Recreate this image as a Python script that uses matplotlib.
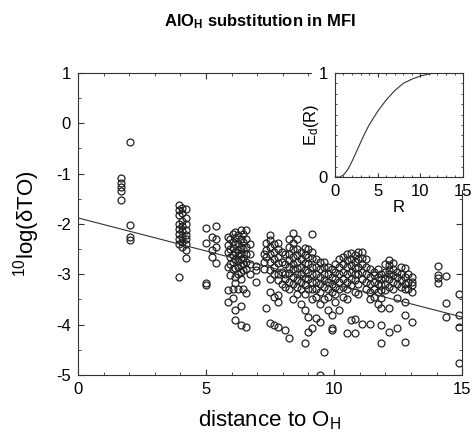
import matplotlib
matplotlib.use('Agg')
import matplotlib.pyplot as plt
from matplotlib.patches import Rectangle
from matplotlib.ticker import MultipleLocator

plt.rcParams['font.family'] = ['Liberation Sans', 'DejaVu Sans']
plt.rcParams['mathtext.fontset'] = 'custom'
plt.rcParams['mathtext.rm'] = 'Liberation Sans'
plt.rcParams['mathtext.it'] = 'Liberation Sans:italic'
plt.rcParams['axes.unicode_minus'] = False

shell_dist = [1.68, 2.05, 3.95, 4.08, 4.22, 5.0, 5.25, 5.38,
              5.85, 5.95, 6.05, 6.15, 6.25, 6.35, 6.45, 6.55, 6.7, 6.95,
              7.25, 7.35, 7.5, 7.65, 7.8, 7.95,
              8.1, 8.25, 8.4, 8.55, 8.7, 8.85, 9.0, 9.15,
              9.3, 9.45, 9.6, 9.75, 9.9,
              10.05, 10.2, 10.35, 10.5, 10.65, 10.8, 10.95, 11.1, 11.25,
              11.4, 11.55, 11.7, 11.85, 12.0, 12.15, 12.3, 12.45, 12.6,
              12.75, 12.9, 13.05, 14.05, 14.35, 14.88]
shell_logs = [
    [-1.09, -1.19, -1.27, -1.35, -1.52],
    [-0.37, -2.02, -2.26, -2.32],
    [-1.62, -1.72, -1.82, -2.0, -2.1, -2.2, -2.3, -2.4, -3.06],
    [-1.68, -1.78, -1.95, -2.05, -2.15, -2.25, -2.35, -2.45],
    [-1.7, -1.88, -2.0, -2.12, -2.22, -2.3, -2.4, -2.52, -2.68],
    [-2.08, -2.38, -3.18, -3.22],
    [-2.26, -2.52, -2.66],
    [-2.04, -2.3, -2.46, -2.78],
    [-2.26, -2.42, -2.56, -2.86, -3.32, -3.55],
    [-2.3, -2.5, -2.65, -2.8, -3.02],
    [-2.2, -2.35, -2.48, -2.62, -2.75, -2.9, -3.3, -3.47],
    [-2.16, -2.28, -2.4, -2.55, -2.7, -2.88, -3.06, -3.18, -3.71, -3.91],
    [-2.22, -2.38, -2.52, -2.62, -2.74, -2.85, -3.0, -3.3],
    [-2.12, -2.3, -2.45, -2.6, -2.7, -2.82, -2.95, -3.1, -3.63, -4.01],
    [-2.2, -2.35, -2.5, -2.68, -2.8, -2.92, -3.3],
    [-2.12, -2.3, -2.45, -2.6, -2.75, -2.9, -3.37, -4.05],
    [-2.4, -2.6, -2.8, -3.0],
    [-2.84, -2.92, -3.16],
    [-2.6, -2.75, -2.9],
    [-2.38, -2.52, -2.66, -3.67],
    [-2.22, -2.32, -2.45, -2.6, -2.75, -2.92, -3.1, -3.35, -3.97],
    [-2.4, -2.55, -2.7, -2.85, -3.0, -3.45, -4.0],
    [-2.38, -2.5, -2.66, -2.78, -3.0, -3.12, -3.41, -3.55, -4.05],
    [-2.55, -2.75, -2.95, -3.2],
    [-2.6, -2.8, -3.0, -3.1, -3.26, -4.11],
    [-2.3, -2.45, -2.6, -2.72, -2.85, -2.98, -3.15, -3.3, -4.27],
    [-2.18, -2.38, -2.5, -2.66, -2.8, -2.9, -3.05, -3.2, -3.5],
    [-2.3, -2.5, -2.62, -2.75, -2.88, -3.0, -3.12, -3.25, -3.4],
    [-2.55, -2.7, -2.85, -3.0, -3.15, -3.3, -3.6],
    [-2.48, -2.62, -2.78, -2.92, -3.08, -3.22, -3.4, -3.7, -4.37],
    [-2.5, -2.65, -2.8, -2.95, -3.1, -3.3, -3.85, -4.15],
    [-2.2, -2.55, -2.68, -2.85, -3.0, -3.15, -3.3, -3.5, -4.07],
    [-2.7, -2.85, -3.0, -3.15, -3.3, -3.45, -3.87],
    [-2.75, -2.9, -3.05, -3.2, -3.35, -3.6, -3.95, -5.0],
    [-2.76, -2.86, -3.0, -3.12, -3.25, -3.5, -4.55],
    [-2.85, -3.0, -3.15, -3.3, -3.45, -3.7],
    [-2.9, -3.05, -3.2, -3.35, -3.81, -4.07, -4.1],
    [-2.8, -2.95, -3.1, -3.25, -3.4, -3.55],
    [-2.7, -2.85, -3.0, -3.15, -3.3, -3.7],
    [-2.65, -2.8, -2.95, -3.1, -3.25, -3.45],
    [-2.6, -2.72, -2.85, -3.0, -3.15, -3.3, -3.5, -4.17],
    [-2.58, -2.7, -2.82, -2.95, -3.1, -3.22, -3.91],
    [-2.62, -2.75, -2.88, -3.0, -3.12, -3.35, -3.88, -4.17],
    [-2.56, -2.7, -2.85, -3.0, -3.2, -3.4],
    [-2.56, -2.68, -2.8, -2.95, -3.1, -3.99],
    [-2.7, -2.85, -3.0, -3.15, -3.3],
    [-2.9, -3.06, -3.2, -3.35, -3.5, -3.99],
    [-2.95, -3.02, -3.15, -3.3, -3.45],
    [-2.9, -3.05, -3.2, -3.35, -3.6],
    [-3.0, -3.1, -3.22, -3.32, -3.47, -3.67, -4.0, -4.37],
    [-2.8, -2.95, -3.08, -3.2, -3.32],
    [-2.72, -2.82, -2.92, -3.0, -3.1, -3.25, -3.67, -4.15],
    [-2.78, -2.9, -3.02, -3.15, -3.3],
    [-2.95, -3.05, -3.2, -3.47, -4.07],
    [-2.85, -3.0, -3.12, -3.25],
    [-2.88, -3.06, -3.2, -3.3, -3.55, -3.81, -4.35],
    [-3.0, -3.15, -3.3],
    [-3.06, -3.16, -3.22, -3.35, -3.95],
    [-2.84, -3.02, -3.08, -3.18],
    [-3.04, -3.57, -3.85],
    [-3.39, -3.81, -4.05, -4.77],
]

# linear fit drawn across the plot
fit_x = [0, 15]
fit_y = [-1.88, -3.85]

# inset: E_d(R)
inset_r = [0, 0.6, 1, 1.5, 2, 2.5, 3, 3.5, 4, 5, 6, 7, 8, 9, 10, 11, 12, 13, 15]
inset_e = [0, 0.0, 0.02, 0.07, 0.15, 0.24, 0.33, 0.42, 0.5, 0.63, 0.74,
           0.83, 0.9, 0.94, 0.97, 0.99, 1.0, 1.0, 1.0]

xs = []
ys = []
for d, logs in zip(shell_dist, shell_logs):
    for v in logs:
        xs.append(d)
        ys.append(v)

fig = plt.figure(figsize=(4.75, 4.34), dpi=100)
ax = fig.add_axes([0.164, 0.136, 0.809, 0.696])

ax.plot(xs, ys, linestyle='none', marker='o', markersize=5,
        markerfacecolor='none', markeredgecolor='#222222', markeredgewidth=0.9)
ax.plot(fit_x, fit_y, color='#333333', lw=0.8)

ax.set_xlim(0, 15)
ax.set_ylim(-5, 1)
ax.xaxis.set_major_locator(MultipleLocator(5))
ax.xaxis.set_minor_locator(MultipleLocator(1))
ax.yaxis.set_major_locator(MultipleLocator(1))
ax.yaxis.set_minor_locator(MultipleLocator(0.5))
ax.tick_params(which='both', direction='in', top=True, right=True,
               labelsize=12, color='#333333')
ax.tick_params(which='major', length=4, pad=5)
ax.tick_params(which='minor', length=2)
for s in ax.spines.values():
    s.set_linewidth(0.8)
    s.set_color('#333333')
ax.set_xlabel('distance to O$_\\mathregular{H}$', fontsize=16, labelpad=8)
ax.set_ylabel('$^\\mathregular{10}$log(δTO)', fontsize=16, labelpad=10)

fig.text(0.548, 0.949, 'AlO$_\\mathregular{H}$ substitution in MFI',
         ha='center', va='center', fontsize=12, fontweight='bold')

# white area behind the inset and its labels
cover = Rectangle((0.657, 0.562), 0.343, 0.31, transform=fig.transFigure,
                  facecolor='white', edgecolor='none', zorder=1)
fig.patches.append(cover)

ins = fig.add_axes([0.705, 0.592, 0.27, 0.24])
ins.set_zorder(2)
ins.plot(inset_r, inset_e, color='#333333', lw=0.8)
ins.set_xlim(0, 15)
ins.set_ylim(0, 1)
ins.set_xticks([0, 5, 10, 15])
ins.set_yticks([0, 1])
ins.xaxis.set_minor_locator(MultipleLocator(1))
ins.yaxis.set_minor_locator(MultipleLocator(0.1))
ins.tick_params(which='both', direction='in', top=True, right=True,
                labelsize=12, color='#333333')
ins.tick_params(which='major', length=3, pad=5)
ins.tick_params(which='minor', length=1.5)
for s in ins.spines.values():
    s.set_linewidth(0.8)
    s.set_color('#333333')
ins.set_xlabel('R', fontsize=12, labelpad=1)
ins.set_ylabel('E$_\\mathregular{d}$(R)', fontsize=12, labelpad=-2)

fig.savefig('out.png', dpi=100)
